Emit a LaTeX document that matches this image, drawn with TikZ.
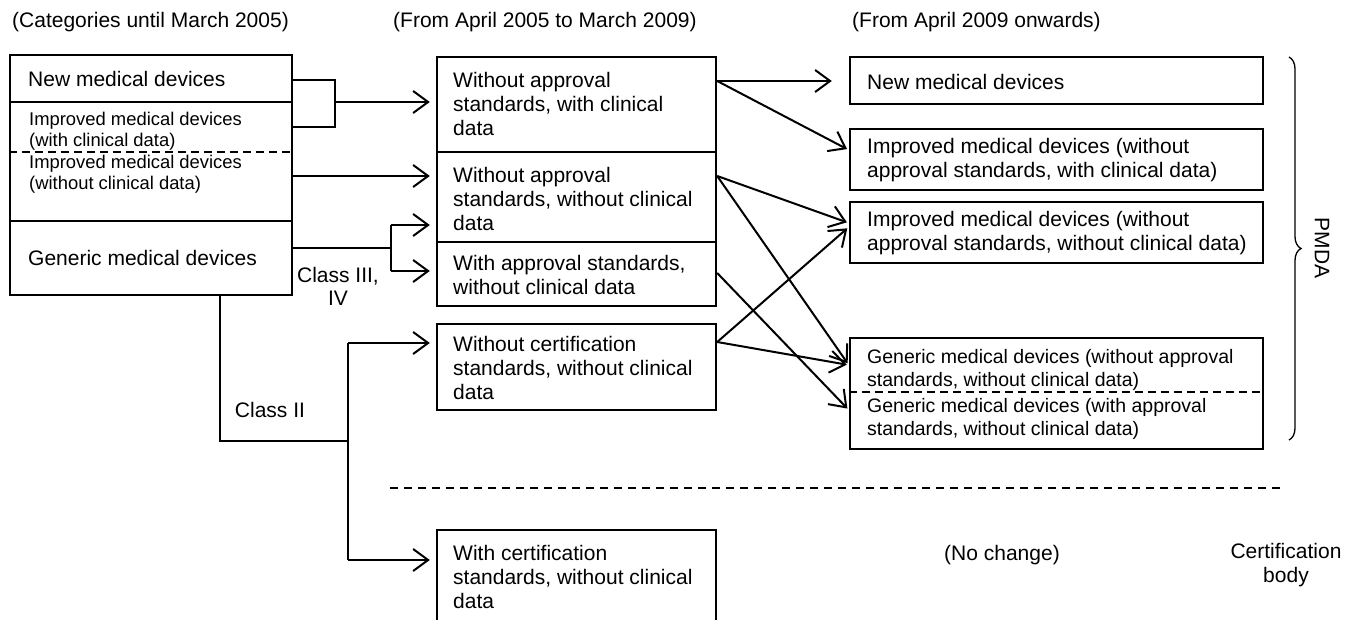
\documentclass[tikz,border=0pt]{standalone}
\usepackage{fontspec}
\setmainfont{Liberation Sans}
\usetikzlibrary{arrows.meta,decorations.pathreplacing,calc}
\begin{document}
\begin{tikzpicture}[x=1pt,y=-1pt,
  box/.style={draw,line width=2.4pt,rectangle,inner sep=0pt},
  lbl/.style={font=\fontsize{21}{24}\selectfont,align=left,inner sep=0pt,anchor=west},
  lblsmall/.style={font=\fontsize{18.4}{21}\selectfont,align=left,inner sep=0pt,anchor=west},
  lblgen/.style={font=\fontsize{19.5}{23}\selectfont,align=left,inner sep=0pt,anchor=west},
  ctr/.style={font=\fontsize{21}{23}\selectfont,align=center,inner sep=0pt},
  ln/.style={line width=2pt},
  arr/.style={line width=2pt,-{Straight Barb[length=15pt,width=22pt]}},
  sep/.style={line width=1.6pt,dash pattern=on 8pt off 6pt}]
\path[use as bounding box,clip] (0,0) rectangle (1353,619);

% column headings
\node[lbl] (h1) at (12,22) {(Categories until March 2005)};
\node[lbl] (h2) at (393,22) {(From April 2005 to March 2009)};
\node[lbl] (h3) at (852,22) {(From April 2009 onwards)};

% categories until March 2005
\node[box,minimum width=282pt,minimum height=47pt] (L1) at (151,78.5) {};
\node[box,minimum width=282pt,minimum height=119pt] (Limp) at (151,161.5) {};
\node[box,minimum width=282pt,minimum height=74pt] (L4) at (151,258) {};
\draw[line width=1.6pt,dash pattern=on 8pt off 5pt] (Limp.west |- 0,152) -- (Limp.east |- 0,152);
\node[lbl] (t1) at (28,79) {New medical devices};
\node[lblsmall] (t2) at (29,131) {Improved medical devices\\(with clinical data)};
\node[lblsmall] (t3) at (29,174.5) {Improved medical devices\\(without clinical data)};
\node[lbl] (t4) at (28,258) {Generic medical devices};

% April 2005 to March 2009
\node[box,minimum width=279pt,minimum height=95pt] (M1) at (576.5,104.5) {};
\node[box,minimum width=279pt,minimum height=90pt] (M2) at (576.5,197) {};
\node[box,minimum width=279pt,minimum height=64pt] (M3) at (576.5,274) {};
\node[box,minimum width=279pt,minimum height=86pt] (M4) at (576.5,367) {};
\node[box,minimum width=279pt,minimum height=110pt] (M5) at (576.5,585) {};
\node[lbl] (m1) at (453,104) {Without approval\\standards, with clinical\\data};
\node[lbl] (m2) at (453,198.5) {Without approval\\standards, without clinical\\data};
\node[lbl] (m3) at (453,274.5) {With approval standards,\\without clinical data};
\node[lbl] (m4) at (453,367.5) {Without certification\\standards, without clinical\\data};
\node[lbl] (m5) at (453,576.5) {With certification\\standards, without clinical\\data};

% from April 2009
\node[box,minimum width=413pt,minimum height=47pt] (R1) at (1056.5,80.5) {};
\node[box,minimum width=413pt,minimum height=61pt] (R2) at (1056.5,159.5) {};
\node[box,minimum width=413pt,minimum height=61pt] (R3) at (1056.5,232.5) {};
\node[box,minimum width=413pt,minimum height=111pt] (R4) at (1056.5,393.5) {};
\draw[line width=1.6pt,dash pattern=on 8pt off 5pt] (R4.west |- 0,392) -- (R4.east |- 0,392);
\node[lbl] (r1) at (867,82) {New medical devices};
\node[lbl] (r2) at (867,160) {Improved medical devices (without\\approval standards, with clinical data)};
\node[lbl] (r3) at (867,233.5) {Improved medical devices (without\\approval standards, without clinical data)};
\node[lblgen] (r4) at (867,369.5) {Generic medical devices (without approval\\standards, without clinical data)};
\node[lblgen] (r5) at (867,419) {Generic medical devices (with approval\\standards, without clinical data)};

% old categories to 2005 categories
\coordinate (bA) at (335,80);
\coordinate (bB) at (335,127);
\coordinate (jA) at (335,102);
\draw[ln] (L1.east |- bA) -- (bA) -- (bB) -- (Limp.east |- bB);
\draw[arr,shorten >=6pt] (jA) -- (M1.west |- jA);
\coordinate (a2) at (292,176);
\draw[arr,shorten >=6pt] (a2) -- (M2.west |- a2);

\coordinate (gJ) at (391,248);
\coordinate (gT) at (391,225);
\coordinate (gB) at (391,271);
\draw[ln] (L4.east |- gJ) -- (gJ);
\draw[ln] (gT) -- (gB);
\draw[arr,shorten >=6pt] (gT) -- (M2.west |- gT);
\draw[arr,shorten >=6pt] (gB) -- (M3.west |- gB);
\node[ctr] (c34) at (338,286) {Class III,\\IV};

\coordinate (k1) at (220,441);
\coordinate (k2) at (348,441);
\coordinate (kT) at (348,343);
\coordinate (kB) at (348,560);
\draw[ln] (L4.south -| k1) -- (k1) -- (k2);
\draw[ln] (kT) -- (kB);
\draw[arr,shorten >=6pt] (kT) -- (M4.west |- kT);
\draw[arr,shorten >=6pt] (kB) -- (M5.west |- kB);
\node[ctr] (c2) at (270,410) {Class II};

% 2005 categories to 2009 categories
\coordinate (s1) at (716,81);
\coordinate (s2) at (716,176);
\coordinate (s3) at (716,273);
\coordinate (s4) at (716,342);
\draw[arr,shorten >=17pt] (M1.east |- s1) -- (R1.west |- s1);
\draw[arr,shorten >=2pt] (M1.east |- s1) -- (R2.west |- 0,150);
\draw[arr,shorten >=2pt] (M2.east |- s2) -- (R3.west |- 0,223);
\draw[arr,shorten >=2pt] (M2.east |- s2) -- (R4.west |- 0,365);
\draw[arr,shorten >=2pt] (M3.east |- s3) -- (R4.west |- 0,410);
\draw[arr,shorten >=2pt] (M4.east |- s4) -- (R3.west |- 0,227);
\draw[arr,shorten >=2pt] (M4.east |- s4) -- (R4.west |- 0,365);

% reviewing bodies
\draw[decorate,decoration={brace,amplitude=12pt},line width=1.3pt] (1289,57) -- (1289,440);
\node[ctr,rotate=-90] (pmda) at (1322,248) {PMDA};
\draw[sep] (390,488) -- (1280,488);
\node[ctr] (nc) at (1002,555) {(No change)};
\node[ctr,font=\fontsize{21}{24}\selectfont] (cb) at (1286,565) {Certification\\body};
\end{tikzpicture}
\end{document}
